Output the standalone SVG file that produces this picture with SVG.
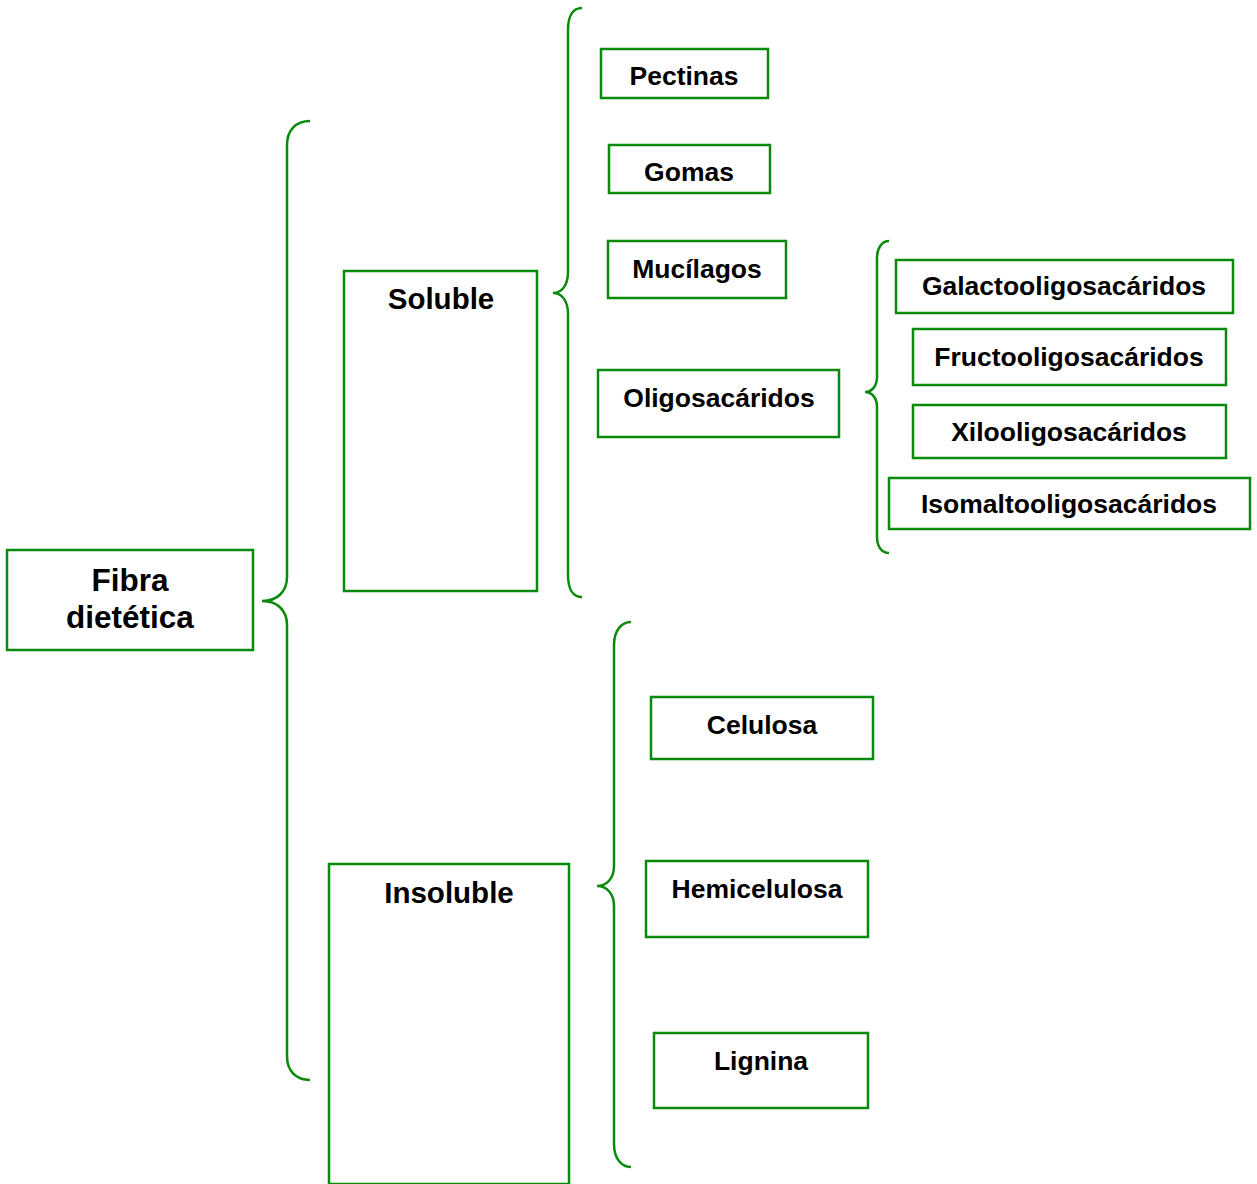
<svg xmlns="http://www.w3.org/2000/svg" width="1257" height="1184" viewBox="0 0 1257 1184">
<style>
.box{fill:#fff;stroke:#0a8a0a;stroke-width:2.5}
.br{fill:none;stroke:#0a8a0a;stroke-width:2.5}
text{font-family:"Liberation Sans",Arial,sans-serif;font-weight:bold;fill:#000;text-anchor:middle}
.s22{font-size:26.5px}
.s26{font-size:29.5px}
.s28{font-size:31.5px}
</style>
<rect width="1257" height="1184" fill="#fff"/>
<g id="connectors">
<path class="br" d="M310 121 C296 121 287 130 287 145 L287 577 C287 591 278 601 262 601 C278 601 287 611 287 625 L287 1056 C287 1071 296 1080 310 1080"/>
<path class="br" d="M582 8 C573 8 568 16 568 30 L568 272 C568 285 562 293 553 293 C562 293 568 301 568 314 L568 575 C568 589 573 597 582 597"/>
<path class="br" d="M889 241 C882 241 877 248 877 258 L877 377 C877 386 872 392 865 392 C872 392 877 398 877 407 L877 537 C877 547 882 553 889 553"/>
<path class="br" d="M631 622 C621 622 614 631 614 645 L614 866 C614 878 607 886 597 886 C607 886 614 894 614 906 L614 1144 C614 1158 621 1167 631 1167"/>
</g>
<g id="fibra"><rect class="box" x="7" y="550" width="246" height="100"/><text class="s28" x="130" y="591">Fibra</text><text class="s28" x="130" y="628">dietética</text></g>
<g id="soluble"><rect class="box" x="344" y="271" width="193" height="320"/><text class="s26" x="441" y="309">Soluble</text></g>
<g id="insoluble"><rect class="box" x="329" y="864" width="240" height="320"/><text class="s26" x="449" y="903">Insoluble</text></g>
<g id="pectinas"><rect class="box" x="601" y="49" width="167" height="49"/><text class="s22" x="684" y="85">Pectinas</text></g>
<g id="gomas"><rect class="box" x="609" y="145" width="161" height="48"/><text class="s22" x="689" y="181">Gomas</text></g>
<g id="mucilagos"><rect class="box" x="608" y="241" width="178" height="57"/><text class="s22" x="697" y="278">Mucílagos</text></g>
<g id="oligosacaridos"><rect class="box" x="598" y="370" width="241" height="67"/><text class="s22" x="719" y="407">Oligosacáridos</text></g>
<g id="galacto"><rect class="box" x="896" y="260" width="337" height="53"/><text class="s22" x="1064" y="295">Galactooligosacáridos</text></g>
<g id="fructo"><rect class="box" x="913" y="329" width="313" height="56"/><text class="s22" x="1069" y="366">Fructooligosacáridos</text></g>
<g id="xilo"><rect class="box" x="913" y="405" width="313" height="53"/><text class="s22" x="1069" y="441">Xilooligosacáridos</text></g>
<g id="isomalto"><rect class="box" x="889" y="478" width="361" height="51"/><text class="s22" x="1069" y="513">Isomaltooligosacáridos</text></g>
<g id="celulosa"><rect class="box" x="651" y="697" width="222" height="62"/><text class="s22" x="762" y="734">Celulosa</text></g>
<g id="hemicelulosa"><rect class="box" x="646" y="861" width="222" height="76"/><text class="s22" x="757" y="898">Hemicelulosa</text></g>
<g id="lignina"><rect class="box" x="654" y="1033" width="214" height="75"/><text class="s22" x="761" y="1070">Lignina</text></g>
</svg>
